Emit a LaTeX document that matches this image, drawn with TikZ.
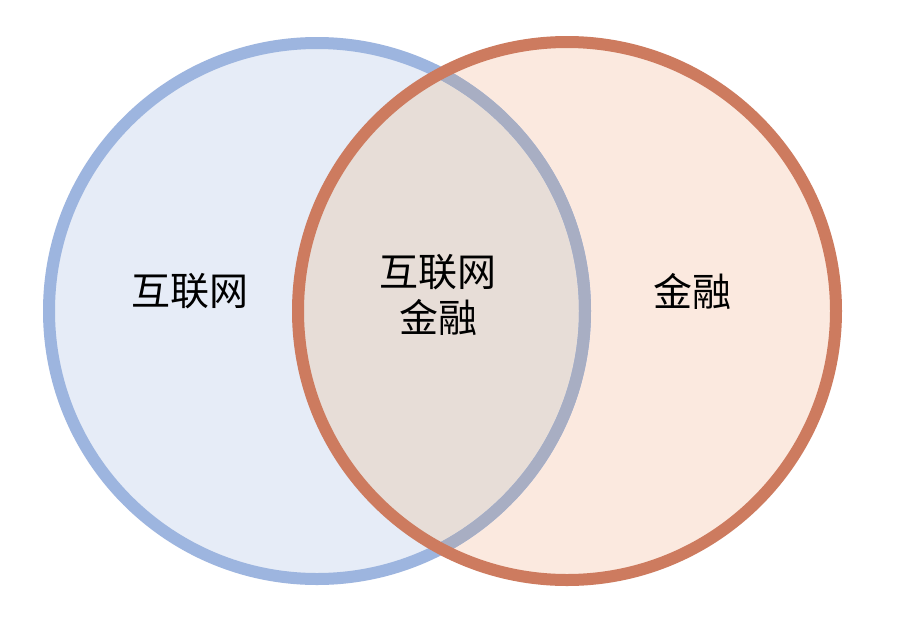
\documentclass[tikz,border=0pt]{standalone}
\usepackage{fontspec}
\newfontfamily\cjk{Noto Sans CJK SC}
\definecolor{bluefill}{HTML}{E6ECF7}
\definecolor{bluestroke}{HTML}{9DB5DF}
\definecolor{bluemix}{HTML}{A8AEC3}
\definecolor{orfill}{HTML}{FBE9DF}
\definecolor{orstroke}{HTML}{CD7B5F}
\definecolor{mixfill}{HTML}{E7DDD7}
\begin{document}
\begin{tikzpicture}[x=1pt,y=-1pt,
  lbl/.style={font=\cjk\fontsize{39}{46}\selectfont, text=black, align=center, inner sep=0pt}]
\useasboundingbox[fill=white] (0,0) rectangle (898,622);
\coordinate (cl) at (317,311);
\coordinate (cr) at (567,311);
% fills
\fill[bluefill] (cl) circle[radius=268];
\fill[orfill] (cr) circle[radius=269];
\begin{scope}
  \clip (cl) circle[radius=268];
  \fill[mixfill] (cr) circle[radius=269];
\end{scope}
% blue stroke
\draw[bluestroke, line width=12] (cl) circle[radius=268];
\begin{scope}
  \clip (cr) circle[radius=269];
  \draw[bluemix, line width=12] (cl) circle[radius=268];
\end{scope}
% orange stroke
\draw[orstroke, line width=12] (cr) circle[radius=269];
% labels
\node[lbl] (a) at (190,291) {互联网};
\node[lbl] (b) at (438,295) {互联网\\金融};
\node[lbl] (c) at (692,291) {金融};
\end{tikzpicture}
\end{document}
